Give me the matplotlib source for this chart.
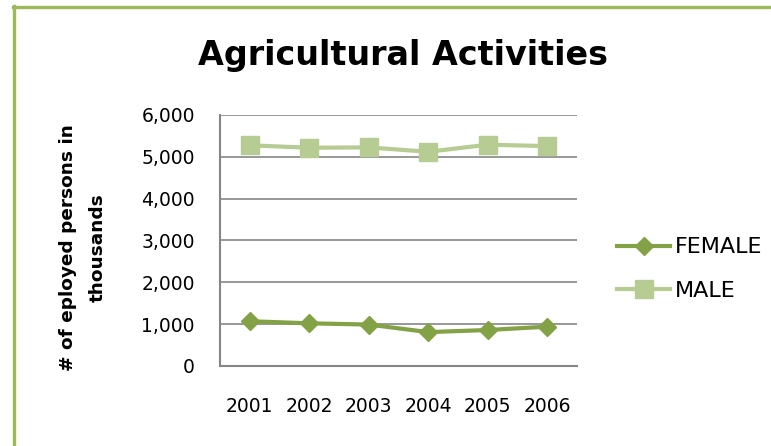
import matplotlib.pyplot as plt
from matplotlib.lines import Line2D
from matplotlib.ticker import FuncFormatter

years = ['2001', '2002', '2003', '2004', '2005', '2006']
female = [1070, 1020, 990, 810, 860, 940]
male = [5275, 5217, 5225, 5120, 5290, 5256]
yticks = [0, 1000, 2000, 3000, 4000, 5000, 6000]

green_dark = '#83a145'
green_light = '#b6cc92'
frame_green = '#9bbb59'
grid_gray = '#868686'

plt.rcParams['font.family'] = ['DejaVu Sans']

fig = plt.figure(figsize=(7.71, 4.46), dpi=100)
ax = fig.add_axes([0.2853, 0.1794, 0.4631, 0.5628])

x = range(len(years))
ax.plot(x, female, color=green_dark, lw=3, marker='D', ms=9,
        mec=green_dark, mfc=green_dark, label='FEMALE', zorder=3)
ax.plot(x, male, color=green_light, lw=3, marker='s', ms=13.5,
        mec=green_light, mfc=green_light, label='MALE', zorder=3)

ax.set_xlim(-0.5, len(years) - 0.5)
ax.set_ylim(0, 6000)
ax.set_xticks(list(x))
ax.set_xticklabels(years)
ax.set_yticks(yticks)
ax.yaxis.set_major_formatter(FuncFormatter(lambda v, p: f'{int(v):,}'))
ax.tick_params(axis='both', length=0, labelsize=13.5, colors='black')
ax.tick_params(axis='y', pad=18)
ax.tick_params(axis='x', pad=22)
ax.grid(axis='y', color=grid_gray, lw=1.2)
ax.set_axisbelow(True)
for s in ['top', 'right']:
    ax.spines[s].set_visible(False)
for s in ['left', 'bottom']:
    ax.spines[s].set_color(grid_gray)
    ax.spines[s].set_linewidth(1.5)

fig.text(0.523, 1 - 65 / 446, 'Agricultural Activities', ha='center',
         va='baseline', fontsize=24, fontweight='bold')
fig.text(83 / 771, 1 - 248 / 446, '# of eployed persons in\nthousands',
         ha='center', va='center', rotation=90, fontsize=13.3,
         fontweight='bold', linespacing=1.85)

leg = ax.legend(loc='center left', bbox_to_anchor=(1.112, 0.386), frameon=False,
                fontsize=16, handlelength=2.39, handletextpad=0.22,
                labelspacing=1.05, borderaxespad=0, borderpad=0)

# green frame along top and left edges
fig.add_artist(Line2D([14 / 771, 14 / 771], [0, 1 - 6 / 446], color=frame_green,
                      lw=2.4, transform=fig.transFigure))
fig.add_artist(Line2D([13 / 771, 1], [1 - 6.5 / 446, 1 - 6.5 / 446],
                      color=frame_green, lw=2.4, transform=fig.transFigure))

fig.savefig('out.png', dpi=100)
